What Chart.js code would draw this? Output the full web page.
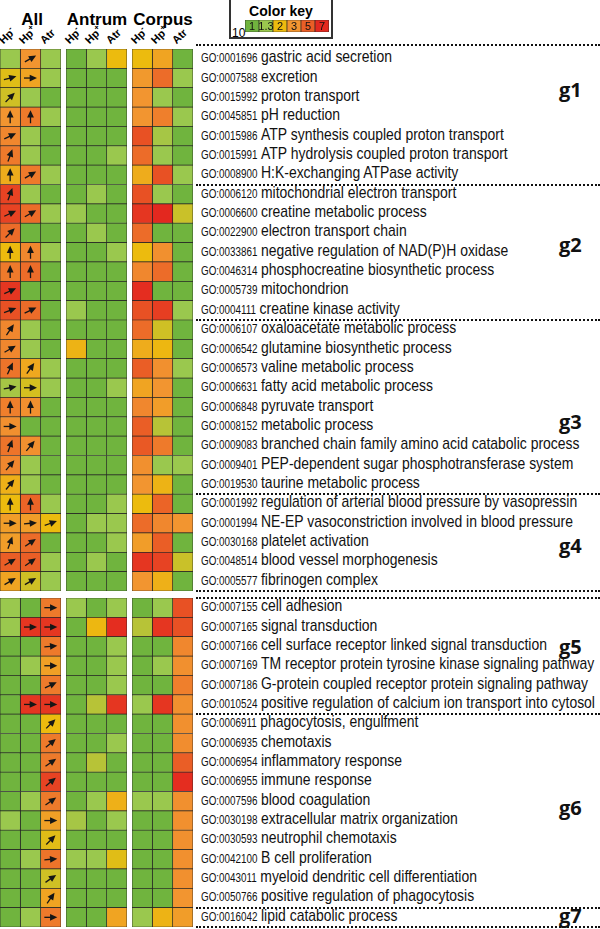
<!DOCTYPE html>
<html>
<head>
<meta charset="utf-8">
<script src="https://cdn.jsdelivr.net/npm/chart.js@4.4.1/dist/chart.umd.min.js"></script>
<style>
  body { margin: 0; width: 600px; height: 929px; position: relative; overflow: hidden; background: #fff; font-family: "Liberation Sans", Arial, sans-serif; }
  canvas { position: absolute; }
  .hd { position: absolute; top: 11px; font: bold 17px "Liberation Sans", Arial, sans-serif; line-height: 17px; transform: translateX(-50%); }
  .sub { position: absolute; font: bold 11px "Liberation Sans", Arial, sans-serif; line-height: 11px; transform-origin: left bottom; transform: rotate(-45deg); white-space: nowrap; }
  .sub sup { font-size: 8px; line-height: 0; }
  .lab { position: absolute; left: 201px; white-space: nowrap; line-height: 20px; font-family: "Liberation Sans", Arial, sans-serif; color: #111; transform: scaleX(0.82); transform-origin: 0 50%; }
  .go { font-size: 12px; }
  .desc { font-size: 17px; }
  .sep { position: absolute; left: 196px; width: 404px; height: 0; border-top: 2px dotted #111; }
  .grp { position: absolute; font: bold 20px "Open Sans", sans-serif; color: #111; line-height: 20px; }
  #key { position: absolute; left: 229px; top: -3px; width: 100px; height: 38px; border: 2px solid #333; }
  #keyTitle { position: absolute; left: 0; width: 100%; top: 4px; text-align: center; font: bold 14px "Liberation Sans", Arial, sans-serif; }
  #keyTen { position: absolute; left: 1px; top: 24px; font: 12px "Liberation Sans", Arial, sans-serif; }
</style>
</head>
<body>
<div class="hd" style="left:32px">All</div>
<div class="hd" style="left:97px">Antrum</div>
<div class="hd" style="left:163px">Corpus</div>
<div id="key"><div id="keyTitle">Color key</div><div id="keyTen">10<sup>-</sup></div></div>
<script>
// columns
const columns = ['Hp-', 'Hp+', 'Atr'];
const colSup = ['-', '+', ''];

// color key (-log10 p)
const keyLabels = ['1', '1.3', '2', '3', '5', '7'];
const keyColors = ['#70b43e', '#9ac84e', '#ecbb0e', '#f29530', '#ea5e26', '#e3281f'];

// groups
const topGroups = ['g1', 'g2', 'g3', 'g4'];
const topGroupSizes = [7, 7, 9, 5];
const bottomGroups = ['g5', 'g6', 'g7'];
const bottomGroupSizes = [6, 10, 1];

const topIds = ['GO:0001696', 'GO:0007588', 'GO:0015992', 'GO:0045851', 'GO:0015986', 'GO:0015991', 'GO:0008900',
  'GO:0006120', 'GO:0006600', 'GO:0022900', 'GO:0033861', 'GO:0046314', 'GO:0005739', 'GO:0004111',
  'GO:0006107', 'GO:0006542', 'GO:0006573', 'GO:0006631', 'GO:0006848', 'GO:0008152', 'GO:0009083', 'GO:0009401', 'GO:0019530',
  'GO:0001992', 'GO:0001994', 'GO:0030168', 'GO:0048514', 'GO:0005577'];
const topNames = ['gastric acid secretion', 'excretion', 'proton transport', 'pH reduction',
  'ATP synthesis coupled proton transport', 'ATP hydrolysis coupled proton transport', 'H:K-exchanging ATPase activity',
  'mitochondrial electron transport', 'creatine metabolic process', 'electron transport chain',
  'negative regulation of NAD(P)H oxidase', 'phosphocreatine biosynthetic process', 'mitochondrion', 'creatine kinase activity',
  'oxaloacetate metabolic process', 'glutamine biosynthetic process', 'valine metabolic process', 'fatty acid metabolic process',
  'pyruvate transport', 'metabolic process', 'branched chain family amino acid catabolic process',
  'PEP-dependent sugar phosphotransferase system', 'taurine metabolic process',
  'regulation of arterial blood pressure by vasopressin', 'NE-EP vasoconstriction involved in blood pressure',
  'platelet activation', 'blood vessel morphogenesis', 'fibrinogen complex'];

const bottomIds = ['GO:0007155', 'GO:0007165', 'GO:0007166', 'GO:0007169', 'GO:0007186', 'GO:0010524',
  'GO:0006911', 'GO:0006935', 'GO:0006954', 'GO:0006955', 'GO:0007596', 'GO:0030198', 'GO:0030593', 'GO:0042100', 'GO:0043011', 'GO:0050766',
  'GO:0016042'];
const bottomNames = ['cell adhesion', 'signal transduction', 'cell surface receptor linked signal transduction',
  'TM receptor protein tyrosine kinase signaling pathway', 'G-protein coupled receptor protein signaling pathway',
  'positive regulation of calcium ion transport into cytosol',
  'phagocytosis, engulfment', 'chemotaxis', 'inflammatory response', 'immune response', 'blood coagulation',
  'extracellular matrix organization', 'neutrophil chemotaxis', 'B cell proliferation',
  'myeloid dendritic cell differentiation', 'positive regulation of phagocytosis',
  'lipid catabolic process'];

// -log10 p per row: [Hp-, Hp+, Atr]
const allTop = [[1.3, 3, 1.3], [1.9, 2.6, 1.3], [1.75, 1.3, 1], [3, 4, 1.3], [3.5, 1.3, 1], [4, 1.3, 1], [2.4, 4, 1.3],
  [6, 1.3, 1], [6, 4.5, 1.3], [4.5, 1, 1], [2, 3.5, 1.3], [4, 4.5, 1], [6.5, 1, 1], [5.5, 4.5, 1],
  [3.5, 1.3, 1], [3.5, 1.3, 1], [4.2, 2.5, 1.3], [1.4, 1.8, 1.3], [3.8, 3.2, 1], [3.2, 1, 1], [4.2, 3.2, 1], [3.5, 1.3, 1], [2.3, 1.3, 1],
  [2, 4.8, 1.3], [2.8, 2.8, 2], [2.8, 4.5, 1], [5, 5, 1.3], [2.6, 1.75, 1.3]];
const antrumTop = [[1, 1.3, 2], [1, 1, 1], [1, 1, 1], [1, 1, 1], [1, 1, 1], [1, 1, 1.3], [1, 1, 1],
  [1, 1.3, 1], [1.3, 1, 1], [1, 1.3, 1], [1, 1, 1.3], [1, 1, 1], [1, 1, 1], [1.3, 1, 1],
  [1, 1, 1], [2.2, 1, 1], [1, 1, 1], [1, 1, 1.3], [1, 1, 1], [1, 1, 1], [1, 1, 1], [1, 1, 1], [1, 1, 1],
  [1, 1, 1.3], [1, 1.3, 1.3], [1, 1, 1.3], [1, 1.3, 1], [1, 1, 1]];
const corpusTop = [[2, 2.6, 1], [2.9, 4.5, 1.3], [3, 1.3, 1], [3, 3.8, 1.3], [5.5, 1.4, 1], [4.5, 1.3, 1], [2.4, 5.5, 1.3],
  [5.5, 1.3, 1], [6.5, 7, 1.7], [4.5, 1, 1], [2, 3.2, 1], [3.5, 4.5, 1], [6.8, 1, 1], [5.5, 6.2, 1.3],
  [4.5, 1.75, 1], [2.4, 2.1, 1], [5, 3.2, 1.3], [2.6, 3, 1], [3.5, 2.8, 1], [5, 1.55, 1], [5.2, 4, 1], [3.2, 1.3, 1.3], [3, 2.2, 1],
  [2, 4.8, 1], [4.5, 3.5, 3], [2.8, 5, 1], [6.5, 6, 1.7], [3, 2.3, 1]];
// arrow direction (degrees) in the "All" cells, null = no arrow
const allTopDirs = [[null, 30, null], [15, 0, null], [45, null, null], [90, 90, null], [25, null, null], [70, null, null], [90, 30, null],
  [70, null, null], [25, 30, null], [45, null, null], [90, 90, null], [90, 90, null], [25, null, null], [20, 25, null],
  [55, null, null], [30, null, null], [65, 55, null], [10, 0, null], [90, 90, null], [0, null, null], [70, 50, null], [50, null, null], [50, null, null],
  [90, 90, null], [0, 5, 20], [70, 35, null], [30, 35, null], [30, 30, null]];

const allBottom = [[1.3, 1, 4], [1.3, 6.5, 6.5], [1, 1, 4], [1, 1.3, 2.7], [1, 1, 4], [1, 6.5, 6.5],
  [1, 1, 2], [1, 1, 4], [1, 1, 4], [1, 1, 6], [1, 1.3, 4], [1.3, 1, 2.7], [1, 1, 1.9], [1, 1.3, 4.2], [1, 1, 1.75], [1, 1, 2.6],
  [1, 1.3, 4]];
const antrumBottom = [[1.3, 1, 1.3], [1, 2.1, 6.8], [1, 1, 1.3], [1, 1, 1.3], [1, 1, 1.3], [1, 1.55, 6.5],
  [1, 1, 1], [1, 1, 1.3], [1, 1.55, 1], [1, 1, 1], [1, 1.3, 2.3], [1.4, 1, 1.3], [1, 1, 1], [1.3, 1.3, 1.9], [1, 1, 1], [1, 1, 1],
  [1, 1, 2.6]];
const corpusBottom = [[1, 1.3, 5.5], [1.55, 6.5, 5.5], [1, 1, 3.5], [1, 1.3, 3.2], [1, 1, 3.8], [1.3, 6.5, 3.2],
  [1, 1, 3.2], [1, 1, 3.3], [1, 1, 5], [1, 1, 6.8], [1.3, 1.3, 3.2], [1, 1, 3.2], [1, 1, 3.2], [1, 1, 3.2], [1, 1, 3.2], [1, 1, 3],
  [1.3, 2.2, 2.8]];
const allBottomDirs = [[null, null, 0], [null, 0, 0], [null, null, 5], [null, null, 0], [null, null, 25], [null, 0, 0],
  [null, null, 45], [null, null, 40], [null, null, 35], [null, null, 40], [null, null, 35], [null, null, 0], [null, null, 45],
  [null, null, 5], [null, null, 35], [null, null, 55], [null, null, 0]];

// ---- colours ----
const keyStops = keyLabels.map(Number);
function hexRgb(h) { return [1, 3, 5].map(i => parseInt(h.slice(i, i + 2), 16)); }
function keyColor(v) {
  if (v <= keyStops[0]) return keyColors[0];
  for (let i = 1; i < keyStops.length; i++) {
    if (v <= keyStops[i]) {
      const t = (v - keyStops[i - 1]) / (keyStops[i] - keyStops[i - 1]);
      const a = hexRgb(keyColors[i - 1]), b = hexRgb(keyColors[i]);
      return 'rgb(' + a.map((c, k) => Math.round(c + (b[k] - c) * t)).join(',') + ')';
    }
  }
  return keyColors[keyColors.length - 1];
}

const arrowPlugin = {
  id: 'arrows',
  afterDatasetsDraw(chart, args, opts) {
    if (!opts.dirs) return;
    const { ctx, scales: { x, y } } = chart;
    ctx.save();
    ctx.fillStyle = '#161616';
    ctx.strokeStyle = '#161616';
    ctx.lineWidth = 1.3;
    opts.dirs.forEach((row, i) => row.forEach((deg, j) => {
      if (deg === null) return;
      ctx.save();
      ctx.translate(x.getPixelForValue(j + 0.5), y.getPixelForValue(i));
      ctx.rotate(-deg * Math.PI / 180);
      ctx.beginPath();
      ctx.moveTo(-6.5, 0);
      ctx.lineTo(0, 0);
      ctx.stroke();
      ctx.beginPath();
      ctx.moveTo(6.5, 0);
      ctx.lineTo(-0.8, -3.4);
      ctx.lineTo(-0.8, 3.4);
      ctx.closePath();
      ctx.fill();
      ctx.restore();
    }));
    ctx.restore();
  }
};

function addCanvas(left, top, w, h) {
  const cv = document.createElement('canvas');
  cv.width = w;
  cv.height = h;
  cv.style.left = left + 'px';
  cv.style.top = top + 'px';
  document.body.appendChild(cv);
  return cv;
}

function heatmap(left, top, h, ids, vals, dirs) {
  const cv = addCanvas(left, top, 61, h);
  return new Chart(cv, {
    type: 'bar',
    data: {
      labels: ids,
      datasets: columns.map((c, j) => ({
        label: c,
        data: vals.map(() => [j, j + 1]),
        backgroundColor: vals.map(r => keyColor(r[j]))
      }))
    },
    options: {
      indexAxis: 'y',
      responsive: false,
      animation: false,
      layout: { padding: 0 },
      datasets: { bar: { grouped: false, barPercentage: 1, categoryPercentage: 1, borderWidth: 0.7, borderColor: '#262626', borderSkipped: false } },
      scales: {
        x: { type: 'linear', min: 0, max: 3, display: false },
        y: { display: false }
      },
      plugins: { legend: { display: false }, tooltip: { enabled: false }, arrows: { dirs } }
    },
    plugins: [arrowPlugin]
  });
}

const TOP_Y = 49, TOP_H = 542, BOT_Y = 598, BOT_H = 329;
const panelLeft = [0, 66, 132];

const topCharts = [
  heatmap(panelLeft[0], TOP_Y, TOP_H, topIds, allTop, allTopDirs),
  heatmap(panelLeft[1], TOP_Y, TOP_H, topIds, antrumTop, null),
  heatmap(panelLeft[2], TOP_Y, TOP_H, topIds, corpusTop, null)
];
const bottomCharts = [
  heatmap(panelLeft[0], BOT_Y, BOT_H, bottomIds, allBottom, allBottomDirs),
  heatmap(panelLeft[1], BOT_Y, BOT_H, bottomIds, antrumBottom, null),
  heatmap(panelLeft[2], BOT_Y, BOT_H, bottomIds, corpusBottom, null)
];

// column sub headers
panelLeft.forEach(pl => columns.forEach((c, j) => {
  const d = document.createElement('div');
  d.className = 'sub';
  d.style.left = (pl + j * 20.3 + 5) + 'px';
  d.style.top = '35px';
  d.innerHTML = c.slice(0, colSup[j] ? 2 : 3) + (colSup[j] ? '<sup>' + colSup[j] + '</sup>' : '');
  document.body.appendChild(d);
}));

// row labels, separators, group names
function addRows(chart, y0, ids, names, groups, sizes, groupY) {
  const ys = chart.scales.y;
  ids.forEach((id, i) => {
    const d = document.createElement('div');
    d.className = 'lab';
    d.style.top = (y0 + ys.getPixelForValue(i) - 11.5) + 'px';
    d.innerHTML = '<span class="go">' + id + '</span> <span class="desc">' + names[i] + '</span>';
    document.body.appendChild(d);
  });
  const rowH = (ys.bottom - ys.top) / ids.length;
  let r = 0;
  const seps = [0];
  sizes.forEach(s => { r += s; seps.push(r); });
  seps.forEach(k => {
    const s = document.createElement('div');
    s.className = 'sep';
    s.style.top = (y0 + ys.top + k * rowH - 1) + 'px';
    document.body.appendChild(s);
  });
  groups.forEach((g, k) => {
    const d = document.createElement('div');
    d.className = 'grp';
    d.style.left = '559px';
    d.style.top = groupY[k] + 'px';
    d.textContent = g;
    document.body.appendChild(d);
  });
}
addRows(topCharts[0], TOP_Y, topIds, topNames, topGroups, topGroupSizes, [80, 235, 412, 536]);
addRows(bottomCharts[0], BOT_Y, bottomIds, bottomNames, bottomGroups, bottomGroupSizes, [637, 798, 906]);
document.querySelector('.sep').style.top = '44px';

// colour key
const keyPlugin = {
  id: 'keyText',
  afterDatasetsDraw(chart) {
    const { ctx, scales: { x, y } } = chart;
    ctx.save();
    ctx.font = '11px "Liberation Sans", Arial, sans-serif';
    ctx.fillStyle = '#111';
    ctx.textAlign = 'center';
    ctx.textBaseline = 'middle';
    keyLabels.forEach((l, i) => ctx.fillText(l, x.getPixelForValue(i), y.getPixelForValue(0.5) + 0.5));
    ctx.restore();
  }
};
new Chart(addCanvas(245, 20, 84, 12), {
  type: 'bar',
  data: {
    labels: keyLabels,
    datasets: [{ data: keyLabels.map(() => [0, 1]), backgroundColor: keyColors }]
  },
  options: {
    responsive: false,
    animation: false,
    layout: { padding: 0 },
    datasets: { bar: { barPercentage: 1, categoryPercentage: 1, borderWidth: 0.7, borderColor: '#262626', borderSkipped: false } },
    scales: { x: { display: false }, y: { min: 0, max: 1, display: false } },
    plugins: { legend: { display: false }, tooltip: { enabled: false } }
  },
  plugins: [keyPlugin]
});
</script>
</body>
</html>
